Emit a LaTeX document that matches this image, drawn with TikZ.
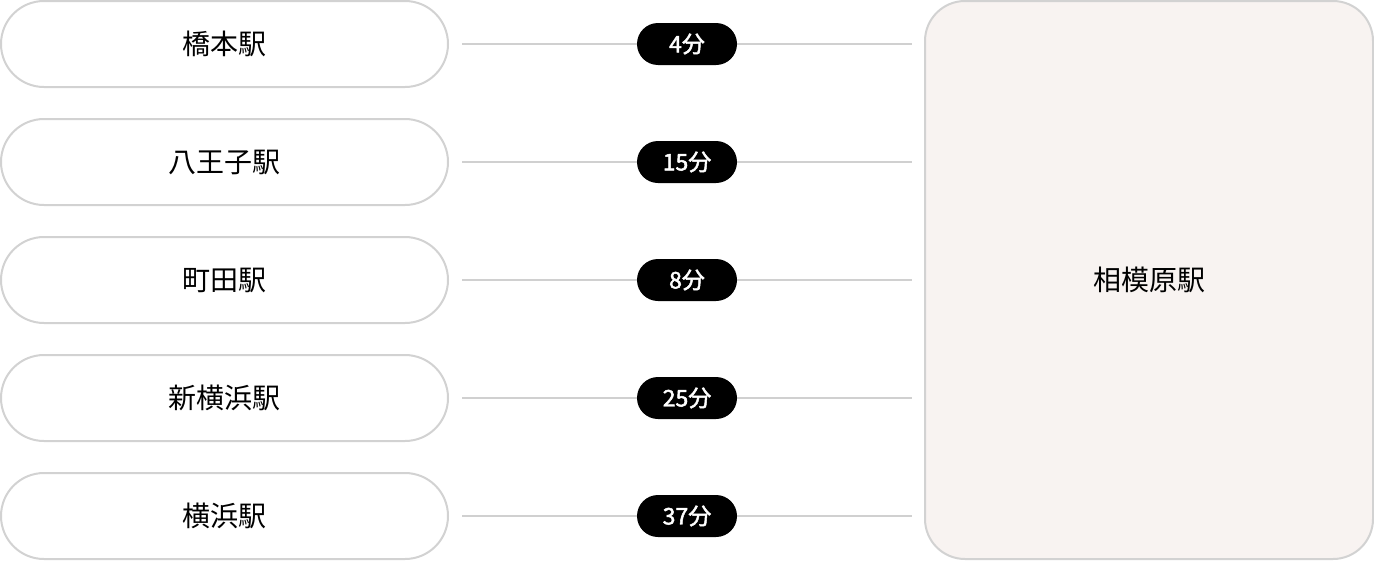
\documentclass[tikz,border=0pt]{standalone}
\usepackage{fontspec}
\setmainfont{Noto Sans CJK JP}
\newfontfamily\pillfont[FakeBold=2]{Noto Sans CJK JP}
\definecolor{bordergray}{HTML}{D2D2D2}
\definecolor{linegray}{HTML}{D0D0D0}
\definecolor{destfill}{HTML}{F8F3F1}
\begin{document}
\begin{tikzpicture}[x=1pt,y=-1pt,
  station/.style={draw=bordergray,line width=2pt,fill=white,rounded corners=43pt,minimum width=447pt,minimum height=86pt,inner sep=0pt,font=\fontsize{28}{32}\selectfont},
  dest/.style={draw=bordergray,line width=2pt,fill=destfill,rounded corners=40pt,minimum width=448pt,minimum height=558pt,inner sep=0pt,font=\fontsize{28}{32}\selectfont},
  timepill/.style={fill=black,text=white,rounded corners=21pt,minimum width=100pt,minimum height=42pt,inner sep=0pt,font=\fontsize{23}{27}\selectfont\pillfont},
  link/.style={draw=linegray,line width=2pt}]
\useasboundingbox (0,0) rectangle (1374,560);
\node[dest] (d) at (1149,280) {相模原駅};
\foreach \i/\name/\t in {1/橋本駅/4分,2/八王子駅/15分,3/町田駅/8分,4/新横浜駅/25分,5/横浜駅/37分}{
  \pgfmathsetmacro{\yy}{44+118*(\i-1)}
  \node[station] (s\i) at (224.5,\yy) {\name};
  \coordinate (a\i) at (462,\yy);
  \coordinate (b\i) at (912,\yy);
  \draw[link] (a\i) -- (b\i);
  \node[timepill] (p\i) at (687,\yy) {\t};
}
\end{tikzpicture}
\end{document}
